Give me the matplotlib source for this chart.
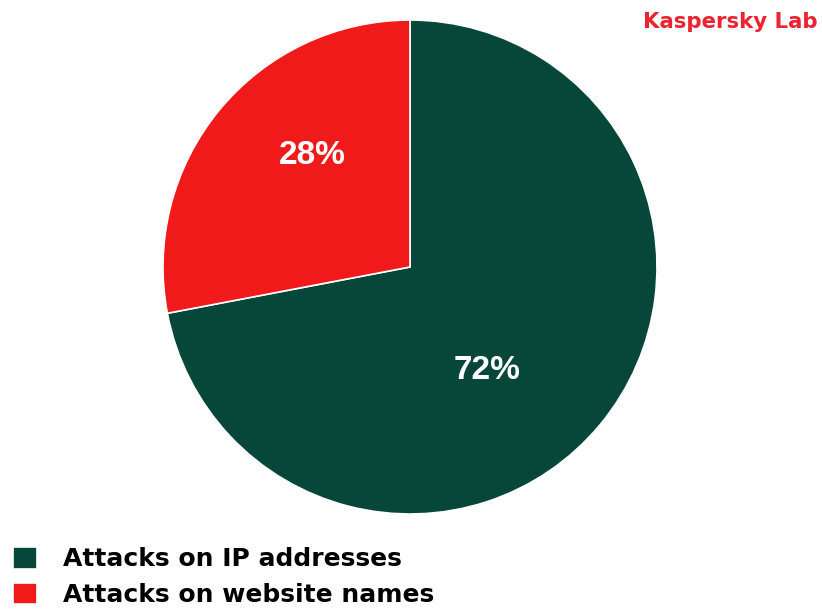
import matplotlib.pyplot as plt

labels = ['Attacks on IP addresses', 'Attacks on website names']
shares = [72, 28]
colors = ['#07473a', '#f01a1a']
# where the percent labels sit, in pie radius units (center = 0, 0)
label_pos = [(0.31, -0.42), (-0.395, 0.45)]

W, H = 822, 611
fig = plt.figure(figsize=(W / 100, H / 100), dpi=100)

cx, cy, r = 410, 267, 247
ax = fig.add_axes([(cx - r) / W, 1 - (cy + r) / H, 2 * r / W, 2 * r / H])
wedges, _ = ax.pie(shares, colors=colors, startangle=90, counterclock=False,
                   radius=1, wedgeprops=dict(edgecolor='white', linewidth=1.2))
ax.set_xlim(-1, 1)
ax.set_ylim(-1, 1)
ax.set_aspect('equal')
ax.axis('off')

for (x, y), v in zip(label_pos, shares):
    ax.text(x, y, f'{v}%', ha='center', va='center', color='white',
            fontsize=24, fontweight='bold', family='Liberation Sans')

fig.text(818 / W, 1 - 22 / H, 'Kaspersky Lab', ha='right', va='center',
         color='#ec2330', fontsize=15.3, fontweight='bold', family='DejaVu Sans')

fig.legend(wedges, labels, loc='upper left', bbox_to_anchor=(13 / W, 1 - 547 / H),
           frameon=False, prop=dict(family='DejaVu Sans', weight='bold', size=18),
           handlelength=0.96, handleheight=0.96, handletextpad=1.05, labelspacing=0.45,
           borderpad=0, borderaxespad=0)

fig.savefig('out.png', dpi=100)
